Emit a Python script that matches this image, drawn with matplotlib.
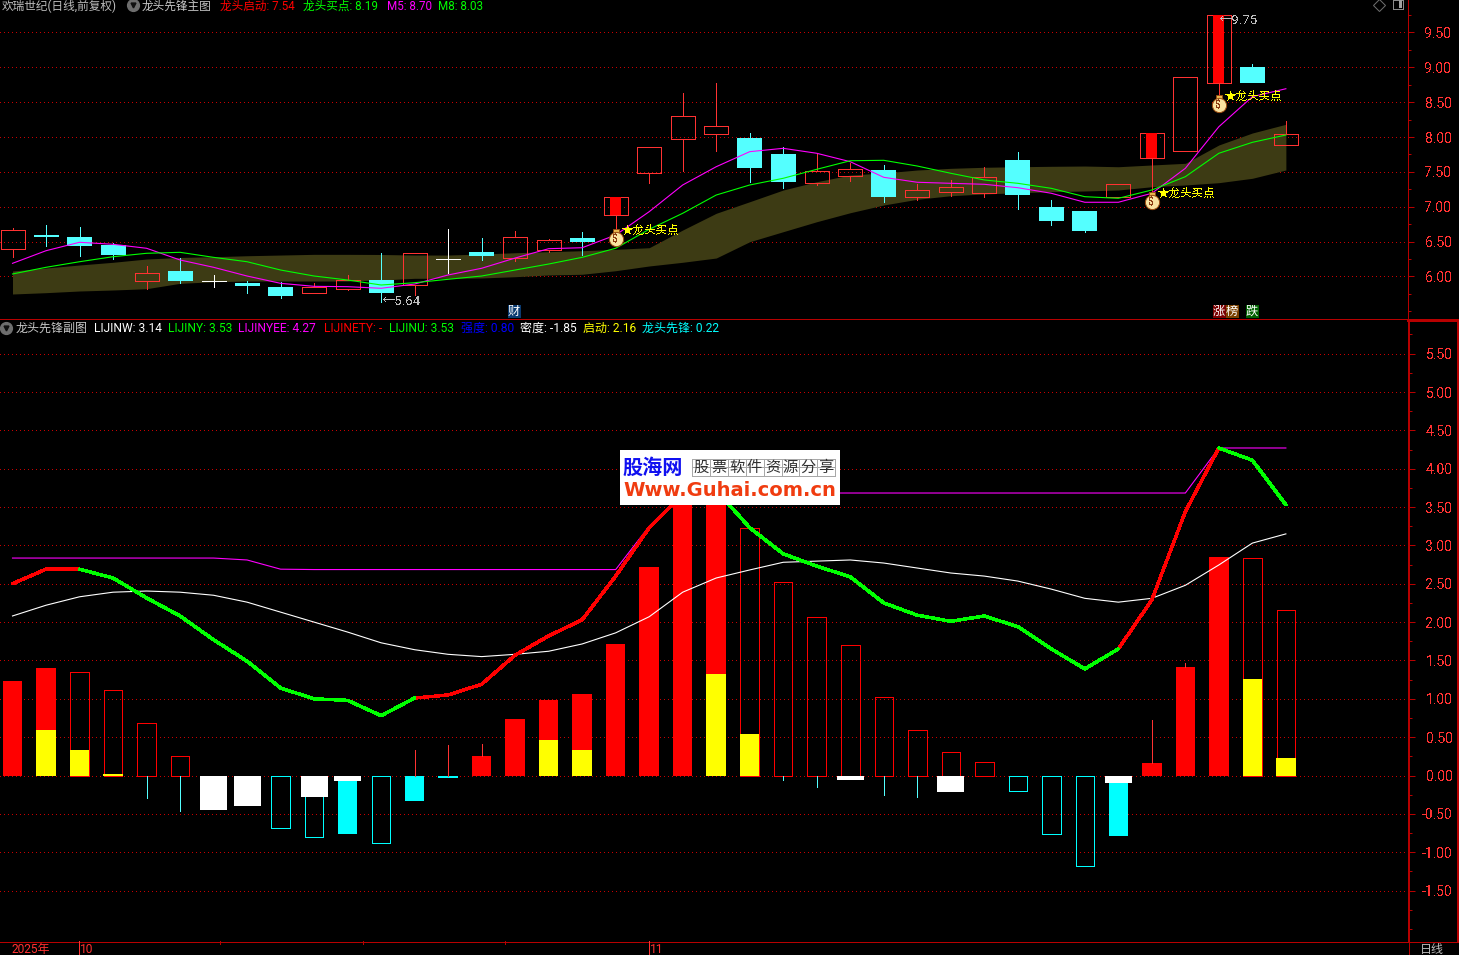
import numpy as np
import matplotlib
matplotlib.use("Agg")
import matplotlib.pyplot as plt
from matplotlib import font_manager as fm
from matplotlib.patches import Rectangle
from matplotlib.lines import Line2D
from matplotlib.ticker import MultipleLocator, FormatStrFormatter

# ---------- price panel data ----------
opens = [6.398,6.590,6.566,6.451,5.939,6.078,5.930,5.906,5.848,5.767,5.824,5.949,5.873,6.246,6.351,6.269,6.383,6.551,6.886,7.488,
         7.976,8.048,7.986,7.757,7.345,7.445,7.527,7.144,7.216,7.193,7.670,6.996,6.939,7.144,7.695,7.804,8.771,9.005,7.890]
closes = [6.662,6.566,6.437,6.307,6.045,5.934,5.930,5.863,5.719,5.844,5.945,5.767,6.332,6.246,6.293,6.561,6.518,6.494,7.140,7.853,
          8.302,8.154,7.556,7.355,7.508,7.537,7.140,7.236,7.279,7.422,7.168,6.795,6.652,7.322,8.054,8.857,9.746,8.775,8.039]
highs = [6.690,6.738,6.709,6.475,6.150,6.260,6.016,5.934,5.920,5.906,6.021,6.332,6.332,6.681,6.551,6.652,6.537,6.637,7.140,7.853,
         8.632,8.775,8.054,7.853,7.757,7.623,7.599,7.326,7.379,7.566,7.785,7.097,6.939,7.322,8.054,8.857,9.750,9.048,8.226]
lows = [6.283,6.437,6.293,6.250,5.824,5.906,5.853,5.762,5.695,5.767,5.805,5.640,5.734,6.045,6.236,6.221,6.355,6.307,6.666,7.340,
        7.513,7.800,7.355,7.269,7.312,7.373,7.068,7.097,7.154,7.144,6.967,6.738,6.637,7.144,7.193,7.804,8.579,8.775,7.890]
band_upper = [6.078,6.121,6.164,6.203,6.250,6.272,6.283,6.297,6.307,6.317,6.317,6.315,6.307,6.307,6.322,6.340,6.355,6.369,6.389,6.412,
              6.666,6.906,7.072,7.240,7.359,7.455,7.484,7.527,7.551,7.566,7.574,7.580,7.584,7.574,7.599,7.623,7.886,8.058,8.183]
band_lower = [5.748,5.767,5.791,5.805,5.824,5.901,5.924,5.934,5.934,5.934,5.934,5.949,5.973,5.973,5.978,5.996,6.021,6.031,6.082,6.150,
              6.203,6.264,6.498,6.642,6.785,6.914,7.025,7.107,7.158,7.183,7.201,7.216,7.226,7.240,7.287,7.312,7.345,7.408,7.527]
ma5 = [6.188,6.369,6.490,6.461,6.404,6.236,6.131,6.006,5.901,5.858,5.853,5.830,5.891,6.021,6.117,6.264,6.398,6.412,6.594,6.929,
       7.312,7.574,7.790,7.838,7.767,7.646,7.422,7.351,7.336,7.322,7.273,7.193,7.064,7.064,7.193,7.551,8.148,8.579,8.693]
ma8 = [6.035,6.131,6.211,6.283,6.332,6.346,6.274,6.211,6.092,6.006,5.949,5.877,5.910,5.959,6.006,6.092,6.178,6.274,6.404,6.676,
       6.906,7.168,7.312,7.408,7.537,7.660,7.666,7.584,7.480,7.384,7.336,7.264,7.144,7.121,7.240,7.431,7.767,7.924,8.029]
buy_index = [18, 34, 36]
buy_label_y = [6.666, 7.197, 8.589]
buy_bag_y = [6.551, 7.082, 8.474]
buy_text = "★龙头买点"

# ---------- indicator panel data ----------
bar_values = [1.23,1.40,1.345,1.12,0.68,0.25,0,0,-0.68,-0.80,-0.76,-0.875,-0.33,-0.03,0.255,0.735,0.985,1.06,1.715,2.72,
              3.90,3.90,3.225,2.52,2.06,1.70,1.02,0.59,0.30,0.17,-0.20,-0.76,-1.175,-0.79,0.16,1.41,2.845,2.83,2.155]
filled_index = [0,1,10,12,13,14,15,16,17,18,19,20,21,33,34,35,36]
yellow_index = [1,2,3,16,17,21,22,37,38]
yellow_values = [0.59,0.33,0.02,0.463,0.33,1.32,0.54,1.255,0.23]
white_index = [6,7,9,10,25,28,33]
white_values = [-0.45,-0.40,-0.28,-0.07,-0.06,-0.215,-0.10]
wick_index = [4,5,12,13,14,23,24,26,27,34,35]
wick_tips = [-0.29,-0.46,0.33,0.40,0.41,-0.06,-0.15,-0.255,-0.28,0.72,1.47]
lijinw = [2.08,2.22,2.33,2.39,2.405,2.39,2.35,2.26,2.13,2.00,1.87,1.73,1.64,1.58,1.55,1.58,1.62,1.715,1.86,2.07,
          2.39,2.575,2.68,2.78,2.795,2.81,2.77,2.705,2.64,2.60,2.535,2.43,2.31,2.26,2.31,2.48,2.745,3.03,3.15]
lijinyee = [2.835,2.835,2.835,2.835,2.835,2.835,2.835,2.81,2.69,2.685,2.685,2.685,2.685,2.685,2.685,2.685,2.685,2.685,2.685,3.25,
            3.683,3.683,3.683,3.683,3.683,3.683,3.683,3.683,3.683,3.683,3.683,3.683,3.683,3.683,3.683,3.683,4.27,4.27,4.27]
lijiny = [2.50,2.69,2.69,2.575,2.315,2.08,1.77,1.49,1.14,1.00,0.98,0.78,1.01,1.05,1.19,1.57,1.82,2.03,2.60,3.23,
          3.67,3.72,3.23,2.89,2.73,2.59,2.25,2.09,2.01,2.08,1.94,1.65,1.39,1.65,2.29,3.44,4.27,4.11,3.53]
red_runs = [(0, 2), (12, 21), (33, 36)]
green_runs = [(2, 12), (21, 33), (36, 38)]

# ---------- header / axis text ----------
top_header_x = [2, 142, 220, 303, 387, 438]
top_header = ["欢瑞世纪(日线,前复权)", "龙头先锋主图", "龙头启动: 7.54", "龙头买点: 8.19", "M5: 8.70", "M8: 8.03"]
top_header_c = ["#bdbdbd", "#c8c8c8", "#ff0000", "#00ff00", "#ff00ff", "#00ff00"]
sub_header_x = [16, 94, 168, 238, 324, 389, 461, 520, 583, 642]
sub_header = ["龙头先锋副图", "LIJINW: 3.14", "LIJINY: 3.53", "LIJINYEE: 4.27", "LIJINETY: -", "LIJINU: 3.53",
              "强度: 0.80", "密度: -1.85", "启动: 2.16", "龙头先锋: 0.22"]
sub_header_c = ["#c8c8c8", "#ffffff", "#00ff00", "#ff00ff", "#ff0000", "#00ff00", "#0000ff", "#ffffff", "#ffff00", "#00ffff"]
date_ticks = [1.97, 6.2, 10.46, 14.7, 19]

W, H = 1459, 955
RED = "#ff3232"; CYAN = "#54ffff"; AX = "#b80000"
PX1 = 0.72
THIN = 0.8
avail = {f.name for f in fm.fontManager.ttflist}
narrow = "Liberation Sans Narrow" if "Liberation Sans Narrow" in avail else "Roboto"
FONT = [narrow, "Noto Sans CJK SC", "DejaVu Sans"]
plt.rcParams["font.family"] = FONT
plt.rcParams["text.antialiased"] = False
plt.rcParams["lines.antialiased"] = False
plt.rcParams["patch.antialiased"] = False

fig = plt.figure(figsize=(W / 100, H / 100), dpi=100, facecolor="black")
def rect(x0, y0, x1, y1):
    return [x0 / W, 1 - y1 / H, (x1 - x0) / W, (y1 - y0) / H]
def fx(x): return x / W
def fy(y): return 1 - y / H

ax1 = fig.add_axes(rect(0, 0, 1407.5, 319.5), facecolor="black")
ax2 = fig.add_axes(rect(0, 320.5, 1408.5, 941.5), facecolor="black")

step = 33.51; x0 = 12.5
px = 1 / step
idx = np.arange(len(closes))

for ax, xr, ylim in ((ax1, 1407.5, (9.966 - 319.5 * .014347, 9.966)), (ax2, 1408.5, ((775.5 - 941.5) / 76.7, (775.5 - 320.5) / 76.7))):
    ax.set_xlim((0 - x0) / step, (xr - x0) / step); ax.set_ylim(*ylim)
    ax.yaxis.tick_right()
    ax.yaxis.set_minor_locator(MultipleLocator(0.25))
    ax.yaxis.set_major_formatter(FormatStrFormatter("%.2f"))
    ax.tick_params(axis="y", which="major", length=4.3, width=PX1, color=AX, labelcolor=RED, labelsize=10, pad=27.5)
    ax.tick_params(axis="y", which="minor", length=2, width=PX1, color=AX)
    ax.set_xticks([])
    for s in ax.spines.values():
        s.set_visible(False)
    ax.spines["right"].set_visible(True); ax.spines["right"].set_color(AX)
    ax.grid(True, axis="y", which="major", color="#c80000", linewidth=PX1, linestyle=(0, (1, 3.3)))
    ax.set_axisbelow(True)
ax2.spines["right"].set_linewidth(1.44)
ax1.spines["right"].set_linewidth(PX1)
ax1.set_yticks(np.arange(6.0, 9.51, 0.5))
ax2.set_yticks(np.arange(-1.5, 5.51, 0.5))
ax1.set_ylim(9.966 - 319.5 * .014347, 9.966)
ax2.set_ylim((775.5 - 941.5) / 76.7, (775.5 - 320.5) / 76.7)
for ax in (ax1, ax2):
    for lab in ax.get_yticklabels():
        lab.set_ha("right")

# ---------- price panel ----------
ax1.fill_between(idx, band_lower, band_upper, color="#3d3b14", linewidth=0, zorder=1)
w = 24.0 * px
for i in idx:
    o, c, h, l = opens[i], closes[i], highs[i], lows[i]
    top, bot = max(o, c), min(o, c)
    if o == c:
        col = "#ffffff"
        ax1.plot([i - w / 2, i + w / 2], [c, c], color=col, lw=PX1, zorder=2)
    elif c > o:
        col = RED
        ax1.bar(i, top - bot, bottom=bot, width=w, facecolor="none", edgecolor=col, linewidth=PX1, zorder=2)
    else:
        col = CYAN
        ax1.bar(i, top - bot, bottom=bot, width=w + px, facecolor=col, edgecolor="none", linewidth=0, zorder=2)
    ax1.plot([i, i], [top, h], color=col, lw=PX1, zorder=2)
    ax1.plot([i, i], [l, bot], color=col, lw=PX1, zorder=2)
for i in buy_index:
    ax1.bar(i, closes[i] - opens[i], bottom=opens[i], width=11 * px, color="#ff0000", linewidth=0, zorder=2)
ax1.plot(idx, ma5, color="#ff00ff", lw=THIN, zorder=3, antialiased=True)
ax1.plot(idx, ma8, color="#00ff00", lw=THIN, zorder=3, antialiased=True)
ax1.annotate("←5.64", (11, min(lows)), xytext=(0, 0), textcoords="offset pixels", color="#bdbdbd", fontsize=9.5, va="center", ha="left", zorder=5)
ax1.annotate("←9.75", (36, max(highs)), xytext=(0, -5), textcoords="offset pixels", color="#bdbdbd", fontsize=9.5, va="center", ha="left", zorder=5)
for i, ly, by in zip(buy_index, buy_label_y, buy_bag_y):
    ax1.scatter([i], [by + 0.085], s=14, marker="s", color="#e8b850", edgecolor="#9a4c10", linewidth=0.6, zorder=6)
    ax1.scatter([i], [by - 0.015], s=105, color="#f8e2a0", edgecolor="#9a4c10", linewidth=PX1, zorder=6)
    ax1.text(i, by - 0.015, "$", color="#8a3a10", fontsize=7.5, fontweight="bold", ha="center", va="center", zorder=7)
    ax1.annotate(buy_text, (i, ly), xytext=(6, 0), textcoords="offset pixels", color="#ffff00", fontsize=8.3,
                 family=["Noto Sans CJK SC", "DejaVu Sans"], va="center", ha="left", zorder=7)

# ---------- indicator panel ----------
bw = 18.5 * px
for i, v in enumerate(bar_values):
    col = "#ff0000" if v >= 0 else "#00ffff"
    if v == 0:
        continue
    if i in filled_index:
        ax2.bar(i, v, width=bw + px, color=col, linewidth=0, zorder=2)
    else:
        ax2.bar(i, v, width=bw, facecolor="none", edgecolor=col, linewidth=PX1, zorder=2)
ax2.bar(yellow_index, yellow_values, width=bw + px, color="#ffff00", linewidth=0, zorder=3)
ax2.bar(white_index, white_values, width=27 * px, color="#ffffff", linewidth=0, zorder=3)
for i, tip in zip(wick_index, wick_tips):
    base = bar_values[i] if bar_values[i] * tip > 0 else 0
    ax2.plot([i, i], [base, tip], color=RED if tip > 0 else CYAN, lw=PX1, zorder=2)
ax2.plot(idx, lijinw, color="#ffffff", lw=THIN, zorder=4, antialiased=True)
ax2.plot(idx, lijinyee, color="#ff00ff", lw=THIN, zorder=4, antialiased=True)
for a, b in red_runs:
    ax2.plot(idx[a:b + 1], lijiny[a:b + 1], color="#ff0000", lw=1.8, zorder=5, solid_capstyle="round")
for a, b in green_runs:
    ax2.plot(idx[a:b + 1], lijiny[a:b + 1], color="#00ff00", lw=1.8, zorder=5, solid_capstyle="round")

# ---------- frame ----------
def line(xs, ys, lw=PX1, c=AX):
    fig.add_artist(Line2D([fx(x) for x in xs], [fy(y) for y in ys], color=c, lw=lw, zorder=10))
line([0, 1459], [319.5, 319.5])
line([1408, 1459], [320.5, 320.5], 1.44)
line([1457.5, 1457.5], [320, 941], 1.44)
line([0, 1459], [941.5, 941.5])
line([1408.5, 1408.5], [941, 955])
for d in date_ticks:
    p = x0 + d * step
    big = d in (date_ticks[0], date_ticks[-1])
    line([p, p], [941, 955 if big else 944], PX1, RED if big else AX)

def t(x, y, s, c, size=8.64, **kw):
    fig.text(fx(x), fy(y), s, color=c, fontsize=size, va="center", ha=kw.pop("ha", "left"), zorder=12, **kw)
plt.rcParams["text.antialiased"] = True
for x, s, c in zip(top_header_x, top_header, top_header_c):
    t(x, 6, s, c, size=8.4)
for x, s, c in zip(sub_header_x, sub_header, sub_header_c):
    t(x, 328, s, c)
t(12, 949, "2025年", RED)
t(80, 949, "10", RED)
t(650, 949, "11", RED)
t(1420, 949, "日线", "#bdbdbd")

# small status icons
for cx, cy in ((133, 5), (6, 328)):
    fig.add_artist(Line2D([fx(cx)], [fy(cy)], marker="o", ms=8.5, color="#6e6e6e", zorder=12))
    fig.add_artist(Line2D([fx(cx)], [fy(cy)], marker="v", ms=3.5, color="#101010", zorder=13))
fig.add_artist(Line2D([fx(1379)], [fy(5)], marker="D", ms=6, mfc="none", mec="#6e6e6e", mew=PX1, zorder=12))
fig.add_artist(Rectangle((fx(1393), fy(9)), 10 / W, 9 / H, transform=fig.transFigure, fc="none", ec="#8a8a8a", lw=PX1, zorder=12))
fig.add_artist(Rectangle((fx(1399), fy(8)), 3 / W, 8 / H, transform=fig.transFigure, fc="#a0a0a0", ec="none", zorder=12))

# tags
for x, ch, bg in ((514, "财", "#0a3a70"), (1219, "涨", "#7a0000"), (1232, "榜", "#7a4000"), (1252, "跌", "#006000")):
    fig.add_artist(Rectangle((fx(x - 6.5), fy(318)), 13 / W, 13 / H, transform=fig.transFigure, fc=bg, ec="none", zorder=11))
    t(x, 311.5, ch, "#ffffff", ha="center", size=8.8)

# logo
fig.add_artist(Rectangle((fx(620), fy(505)), 220 / W, 55 / H, transform=fig.transFigure, fc="#ffffff", ec="none", zorder=20))
for k in range(9):
    xk = 692 + k * 17.9
    fig.add_artist(Line2D([fx(xk), fx(xk)], [fy(459), fy(476)], color="#a8a8a8", lw=PX1, zorder=21))
for yk in (459, 467.5, 476):
    fig.add_artist(Line2D([fx(692), fx(835)], [fy(yk), fy(yk)], color="#a8a8a8", lw=PX1, zorder=21))
fig.text(fx(653), fy(467), "股海网", color="#1010f0", fontsize=14.5, fontweight="bold", ha="center", va="center",
         family=["Noto Sans CJK SC"], zorder=22)
for k, ch in enumerate("股票软件资源分享"):
    fig.text(fx(692 + (k + .5) * 17.9), fy(467.5), ch, color="#303030", fontsize=11, ha="center", va="center",
             family=["Noto Sans CJK SC"], zorder=22)
fig.text(fx(730), fy(490), "Www.Guhai.com.cn", color="#f03c10", fontsize=14.0, fontweight="bold", ha="center", va="center",
         family=["DejaVu Sans"], zorder=22)

fig.savefig("out.png", dpi=100, facecolor="black")
